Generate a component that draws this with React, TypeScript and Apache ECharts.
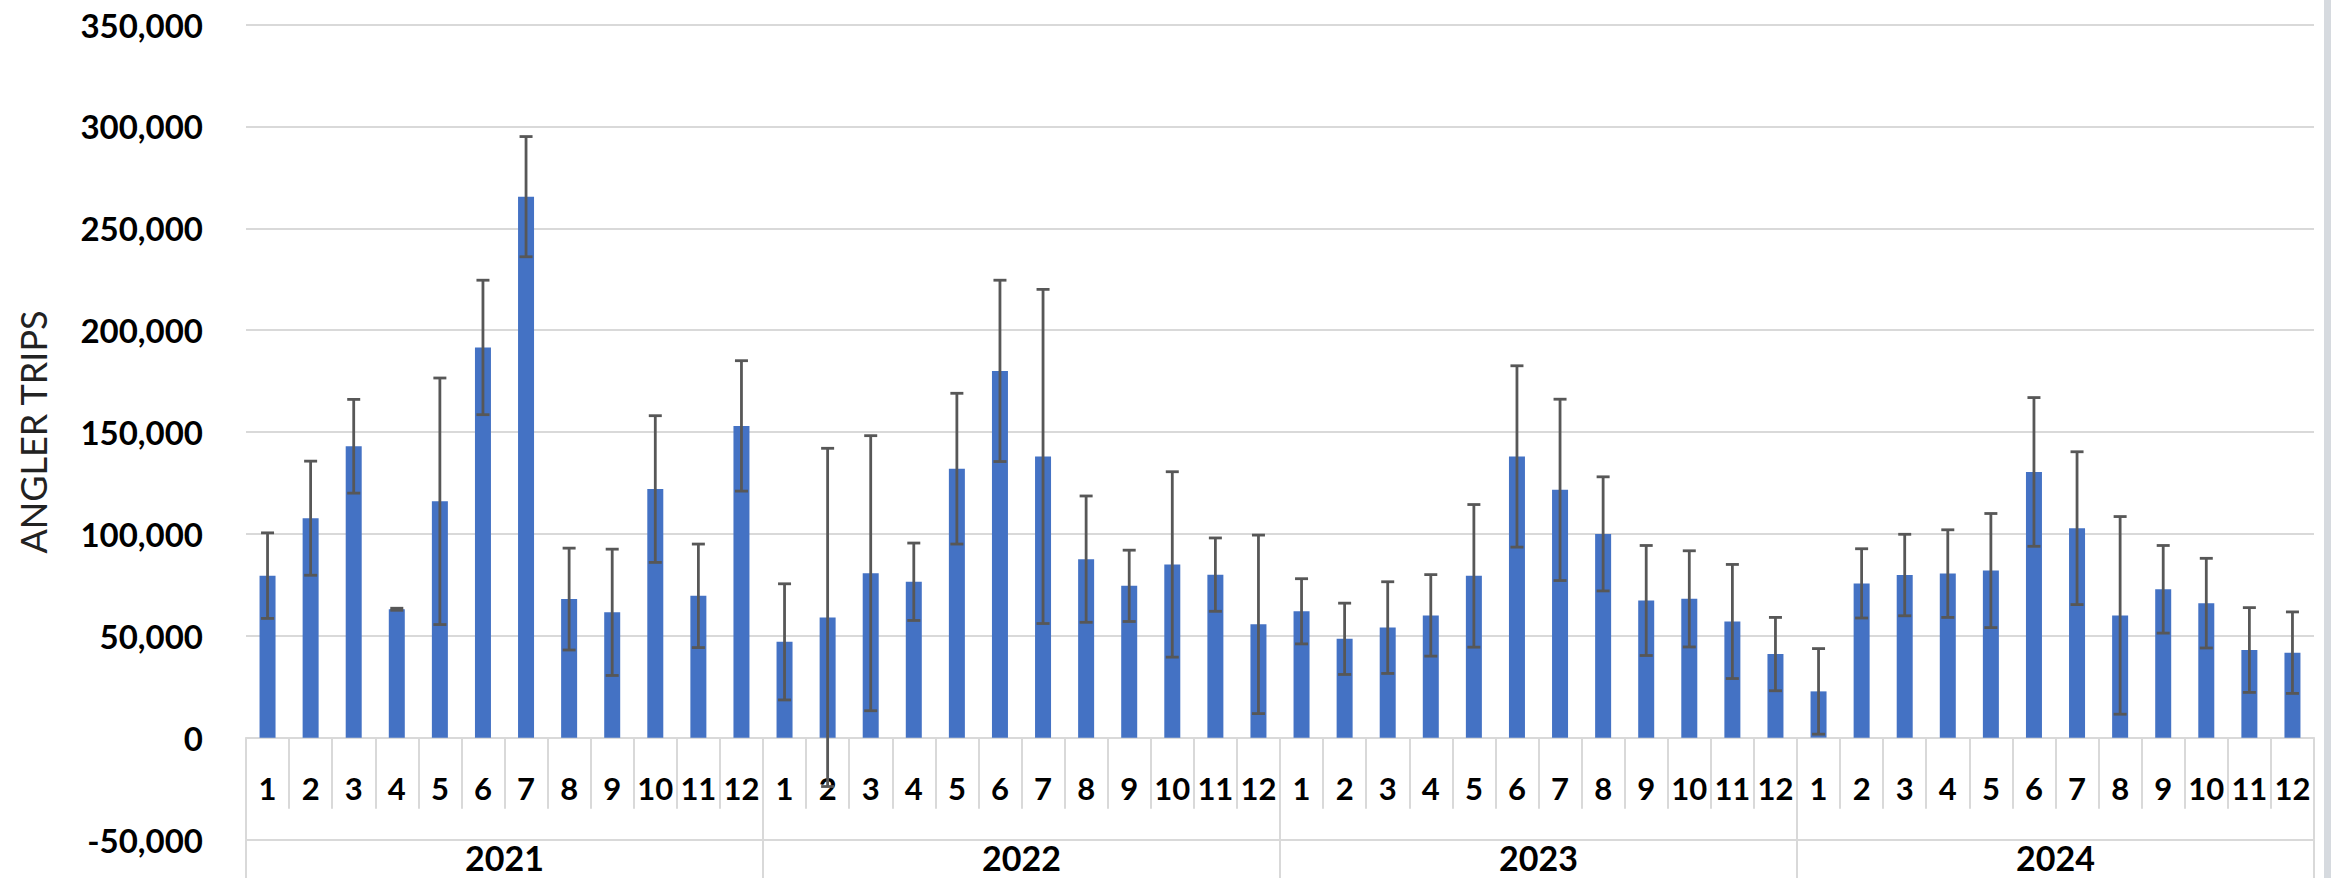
import React, { useEffect, useRef } from "react";
import * as echarts from "echarts";

const years = ["2021", "2022", "2023", "2024"];
const months = ["1", "2", "3", "4", "5", "6", "7", "8", "9", "10", "11", "12"];

const trips2021 = [79500, 107700, 143000, 63000, 116000, 191500, 265500, 68000, 61500, 122000, 69600, 153000];
const err2021 = [21000, 28000, 23000, 500, 60500, 33000, 29500, 25000, 31000, 36000, 25400, 32000];
const trips2022 = [47000, 59000, 80700, 76500, 132000, 180000, 138000, 87600, 74500, 85000, 80000, 55600];
const err2022 = [28500, 83000, 67500, 19000, 37000, 44500, 82000, 31000, 17500, 45500, 18000, 43800];
const trips2023 = [62000, 48500, 54000, 60000, 79400, 138000, 121600, 100000, 67300, 68100, 57000, 41000];
const err2023 = [16000, 17500, 22500, 20000, 35000, 44500, 44500, 28000, 27000, 23600, 28000, 18000];
const trips2024 = [22700, 75700, 79800, 80500, 82000, 130400, 102800, 60000, 72800, 66000, 43000, 41700];
const err2024 = [21000, 17000, 20000, 21500, 28000, 36500, 37500, 48500, 21500, 22000, 20800, 20000];

const yTicks = { min: -50000, max: 350000, interval: 50000 };

export default function App() {
  const ref = useRef<HTMLDivElement>(null);

  useEffect(() => {
    document.body.style.margin = "0";
    document.body.style.overflow = "hidden";
    if (!ref.current) return;
    const chart = echarts.init(ref.current, null, { renderer: "svg" });

    const categories: string[] = [];
    years.forEach((y) => months.forEach((m) => categories.push(`${y}|${m}`)));
    const values = [...trips2021, ...trips2022, ...trips2023, ...trips2024];
    const errs = [...err2021, ...err2022, ...err2023, ...err2024];
    const errData = values.map((v, i) => [i, v - errs[i], v + errs[i]]);

    const grey = "#d9d9d9";
    const labelFont = "Lato";
    const gridTop = 24.5;
    const gridBottom = 38.5;
    const plotH = 878 - gridTop - gridBottom;
    const bandPx = plotH * (0 - yTicks.min) / (yTicks.max - yTicks.min);

    chart.setOption({
      animation: false,
      backgroundColor: "#ffffff",
      grid: { left: 246, right: 17, top: gridTop, bottom: gridBottom, containLabel: false },
      xAxis: [
        {
          type: "category",
          data: categories,
          position: "bottom",
          offset: -bandPx,
          axisLine: { show: true, onZero: false, lineStyle: { color: grey, width: 2 } },
          axisTick: { show: true, interval: 0, length: 71, lineStyle: { color: grey, width: 2 } },
          axisLabel: {
            interval: 0,
            margin: 50,
            verticalAlign: "middle",
            hideOverlap: false,
            formatter: (v: string) => v.split("|")[1],
            fontFamily: labelFont,
            fontWeight: "bold",
            fontSize: 31,
            color: "#000000",
          },
          splitLine: { show: false },
        },
        {
          type: "category",
          data: years,
          position: "bottom",
          axisLine: { show: true, onZero: false, lineStyle: { color: grey, width: 2 } },
          axisTick: { show: true, interval: 0, length: 40, lineStyle: { color: grey, width: 2 } },
          axisLabel: {
            interval: 0,
            margin: 18,
            verticalAlign: "middle",
            fontFamily: labelFont,
            fontWeight: "bold",
            fontSize: 34,
            color: "#000000",
          },
          splitLine: { show: false },
        },
        {
          type: "category",
          data: years,
          position: "bottom",
          axisLine: { show: false, onZero: false },
          axisTick: { show: true, inside: true, interval: 0, length: bandPx, lineStyle: { color: grey, width: 2 } },
          axisLabel: { show: false },
          splitLine: { show: false },
        },
      ],
      yAxis: {
        type: "value",
        min: yTicks.min,
        max: yTicks.max,
        interval: yTicks.interval,
        axisLine: { show: false },
        axisTick: { show: false },
        splitLine: { show: true, lineStyle: { color: grey, width: 2 } },
        axisLabel: {
          margin: 43,
          formatter: (v: number) => v.toLocaleString("en-US"),
          fontFamily: labelFont,
          fontWeight: "bold",
          fontSize: 33,
          color: "#000000",
        },
      },
      graphic: [
        {
          type: "text",
          x: 33,
          y: 432,
          rotation: Math.PI / 2,
          style: {
            text: "ANGLER TRIPS",
            font: `36px ${labelFont}`,
            fill: "#222222",
            align: "center",
            verticalAlign: "middle",
          },
        },
        {
          type: "rect",
          shape: { x: 2324, y: 0, width: 7, height: 878 },
          style: { fill: "#d6dadf" },
        },
      ],
      series: [
        {
          type: "bar",
          xAxisIndex: 0,
          yAxisIndex: 0,
          data: values,
          barWidth: 16,
          itemStyle: { color: "#4472C4" },
          z: 2,
        },
        {
          type: "custom",
          xAxisIndex: 0,
          yAxisIndex: 0,
          data: errData,
          encode: { x: 0, y: [1, 2] },
          z: 5,
          renderItem: (params: any, api: any) => {
            const idx = api.value(0);
            const lo = api.coord([idx, api.value(1)]);
            const hi = api.coord([idx, api.value(2)]);
            const half = 6.5;
            const style = { stroke: "#575757", lineWidth: 2.8 };
            return {
              type: "group",
              children: [
                { type: "line", shape: { x1: hi[0], y1: hi[1], x2: lo[0], y2: lo[1] }, style },
                { type: "line", shape: { x1: hi[0] - half, y1: hi[1], x2: hi[0] + half, y2: hi[1] }, style },
                { type: "line", shape: { x1: lo[0] - half, y1: lo[1], x2: lo[0] + half, y2: lo[1] }, style },
              ],
            };
          },
        },
      ],
    });

    return () => chart.dispose();
  }, []);

  return <div ref={ref} style={{ width: "2331px", height: "878px" }} />;
}
